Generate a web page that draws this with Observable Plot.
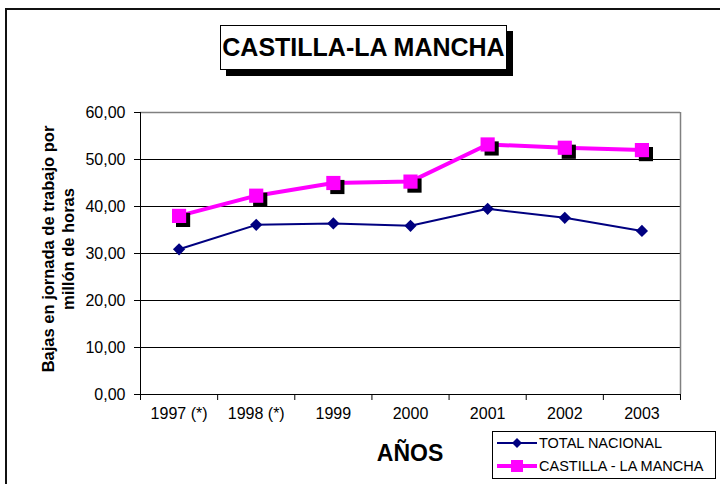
<!DOCTYPE html>
<html>
<head>
<meta charset="utf-8">
<script src="https://cdn.jsdelivr.net/npm/d3@7"></script>
<script src="https://cdn.jsdelivr.net/npm/@observablehq/plot@0.6"></script>
<style>
  html, body { margin: 0; padding: 0; background: #fff; }
  #wrap { position: relative; width: 720px; height: 484px; overflow: hidden; font-family: "Liberation Sans", Arial, sans-serif; background: #fff; }
  #outer { position: absolute; left: 5px; top: 8px; width: 740px; height: 500px; border-left: 2px solid #111; border-top: 2px solid #111; }
  #title { position: absolute; left: 220px; top: 25px; width: 287px; height: 45px; border: 1px solid #000; background: #fff; box-shadow: 6px 6px 0 #000; font-weight: bold; font-size: 25px; display: flex; align-items: center; justify-content: center; box-sizing: border-box; }
  #ylab { position: absolute; left: 58px; top: 249px; transform: translate(-50%, -50%) rotate(-90deg); white-space: nowrap; text-align: center; font-weight: bold; font-size: 16.5px; line-height: 20px; }
  #xlab { position: absolute; left: 410px; top: 440px; transform: translateX(-50%); font-weight: bold; font-size: 23px; }
  #legend { position: absolute; left: 492px; top: 431px; width: 224px; height: 48px; border: 1px solid #000; box-sizing: border-box; background: #fff; font-size: 14.5px; }
  .li { position: absolute; left: 4px; display: flex; align-items: center; }
  .li svg { display: block; margin-right: 2px; }
  svg.plot { position: absolute; left: 0; top: 0; }
</style>
</head>
<body>
<div id="wrap">
  <div id="outer"></div>
  <div id="chart"></div>
  <div id="title">CASTILLA-LA MANCHA</div>
  <div id="ylab">Bajas en jornada de trabajo por<br>millón de horas</div>
  <div id="xlab">AÑOS</div>
  <div id="legend"></div>
</div>
<script>
const categories = ["1997 (*)", "1998 (*)", "1999", "2000", "2001", "2002", "2003"];
const totalNacional = [30.9, 36.1, 36.4, 35.9, 39.5, 37.6, 34.8];
const castillaLaMancha = [38.0, 42.3, 45.0, 45.3, 53.2, 52.5, 52.0];
const seriesNames = ["TOTAL NACIONAL", "CASTILLA - LA MANCHA"];
const yTicks = [0, 10, 20, 30, 40, 50, 60];

const tn = categories.map((c, i) => ({pos: i + 0.5, cat: c, value: totalNacional[i]}));
const clm = categories.map((c, i) => ({pos: i + 0.5, cat: c, value: castillaLaMancha[i]}));
const boundaries = d3.range(categories.length + 1);
const centers = categories.map((c, i) => i + 0.5);

const fmt = d => d.toFixed(2).replace(".", ",");

const chart = Plot.plot({
  width: 720,
  height: 484,
  marginLeft: 140,
  marginRight: 40,
  marginTop: 112,
  marginBottom: 90,
  style: {fontFamily: "'Liberation Sans', Arial, sans-serif", fontSize: "16px", background: "transparent", color: "#000"},
  x: {domain: [0, categories.length], axis: null},
  y: {domain: [0, 60], axis: null},
  marks: [
    Plot.ruleY(yTicks.filter(d => d > 0 && d < 60), {stroke: "#000", strokeWidth: 1}),
    Plot.ruleY([60], {stroke: "#808080", strokeWidth: 1.5}),
    Plot.ruleX([categories.length], {stroke: "#808080", strokeWidth: 1.5}),
    Plot.axisY({ticks: yTicks, tickFormat: fmt, tickSize: 6, tickPadding: 9, fontSize: 16, stroke: "#000", label: null}),
    Plot.axisX({ticks: boundaries, tickFormat: () => "", tickSize: 6, stroke: "#000", label: null}),
    Plot.axisX({ticks: centers, tickFormat: d => categories[Math.floor(d)], tickSize: 0, tickPadding: 13, fontSize: 16, label: null}),
    Plot.ruleX([0], {stroke: "#000", strokeWidth: 1}),
    Plot.ruleY([0], {stroke: "#000", strokeWidth: 1}),
    Plot.line(tn, {x: "pos", y: "value", stroke: "#000080", strokeWidth: 2}),
    Plot.dot(tn, {x: "pos", y: "value", symbol: "diamond2", fill: "#000080", stroke: "none", r: 5.5}),
    Plot.line(clm, {x: "pos", y: "value", stroke: "#FF00FF", strokeWidth: 4}),
    Plot.dot(clm, {x: "pos", y: "value", symbol: "square", fill: "#000", stroke: "none", r: 8, dx: 4, dy: 4}),
    Plot.dot(clm, {x: "pos", y: "value", symbol: "square", fill: "#FF00FF", stroke: "none", r: 8})
  ]
});
document.getElementById("chart").appendChild(chart);

// Legend
const legend = document.getElementById("legend");
const legendItems = [
  {name: seriesNames[0], color: "#000080", width: 2, marker: "diamond"},
  {name: seriesNames[1], color: "#FF00FF", width: 4, marker: "square"}
];
legendItems.forEach((it, i) => {
  const div = document.createElement("div");
  div.className = "li";
  div.style.top = (i === 0 ? 2 : 25) + "px";
  const ns = "http://www.w3.org/2000/svg";
  const svg = document.createElementNS(ns, "svg");
  svg.setAttribute("width", 40);
  svg.setAttribute("height", 18);
  const line = document.createElementNS(ns, "line");
  line.setAttribute("x1", 0); line.setAttribute("x2", 40);
  line.setAttribute("y1", 9); line.setAttribute("y2", 9);
  line.setAttribute("stroke", it.color); line.setAttribute("stroke-width", it.width);
  svg.appendChild(line);
  const path = document.createElementNS(ns, "path");
  if (it.marker === "diamond") {
    path.setAttribute("d", "M20,4 L25,9 L20,14 L15,9 Z");
  } else {
    path.setAttribute("d", "M14,3 H26 V15 H14 Z");
  }
  path.setAttribute("fill", it.color);
  svg.appendChild(path);
  div.appendChild(svg);
  const span = document.createElement("span");
  span.textContent = it.name;
  div.appendChild(span);
  legend.appendChild(div);
});
</script>
</body>
</html>
